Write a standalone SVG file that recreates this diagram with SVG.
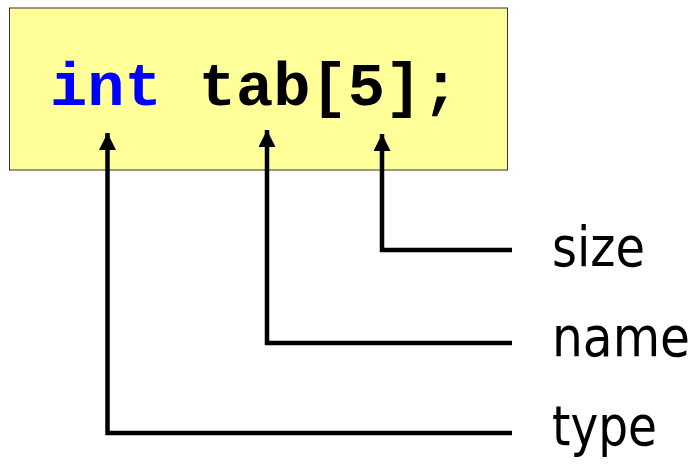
<svg xmlns="http://www.w3.org/2000/svg" width="697" height="469" viewBox="0 0 697 469">
<style>
.code{font-family:"Liberation Mono","Courier New",monospace;font-weight:bold;font-size:62px}
.lbl{font-family:"DejaVu Sans Condensed","DejaVu Sans",sans-serif;font-size:55px;fill:#000}
.conn{fill:none;stroke:#000;stroke-width:4.5}
</style>
<defs>
<marker id="ah" viewBox="0 0 10 10" refX="10" refY="5" markerWidth="17" markerHeight="17" markerUnits="userSpaceOnUse" orient="auto">
<path d="M0,0 L10,5 L0,10 Z" fill="#000"/>
</marker>
</defs>
<g id="decl">
<rect x="9.5" y="8" width="498" height="162" fill="#ffff99" stroke="#333" stroke-width="1"/>
<text class="code" x="50" y="105"><tspan fill="#0000ff">int</tspan> <tspan fill="#000">tab[5];</tspan></text>
</g>
<g id="connectors">
<path class="conn" d="M512,250 H382 V134" marker-end="url(#ah)"/>
<path class="conn" d="M512,343 H267 V130" marker-end="url(#ah)"/>
<path class="conn" d="M512,433 H107.5 V133" marker-end="url(#ah)"/>
</g>
<g id="size"><text class="lbl" x="552" y="266" textLength="93" lengthAdjust="spacingAndGlyphs">size</text></g>
<g id="name"><text class="lbl" x="552" y="356" textLength="138" lengthAdjust="spacingAndGlyphs">name</text></g>
<g id="type"><text class="lbl" x="552" y="445" textLength="105" lengthAdjust="spacingAndGlyphs">type</text></g>
</svg>
